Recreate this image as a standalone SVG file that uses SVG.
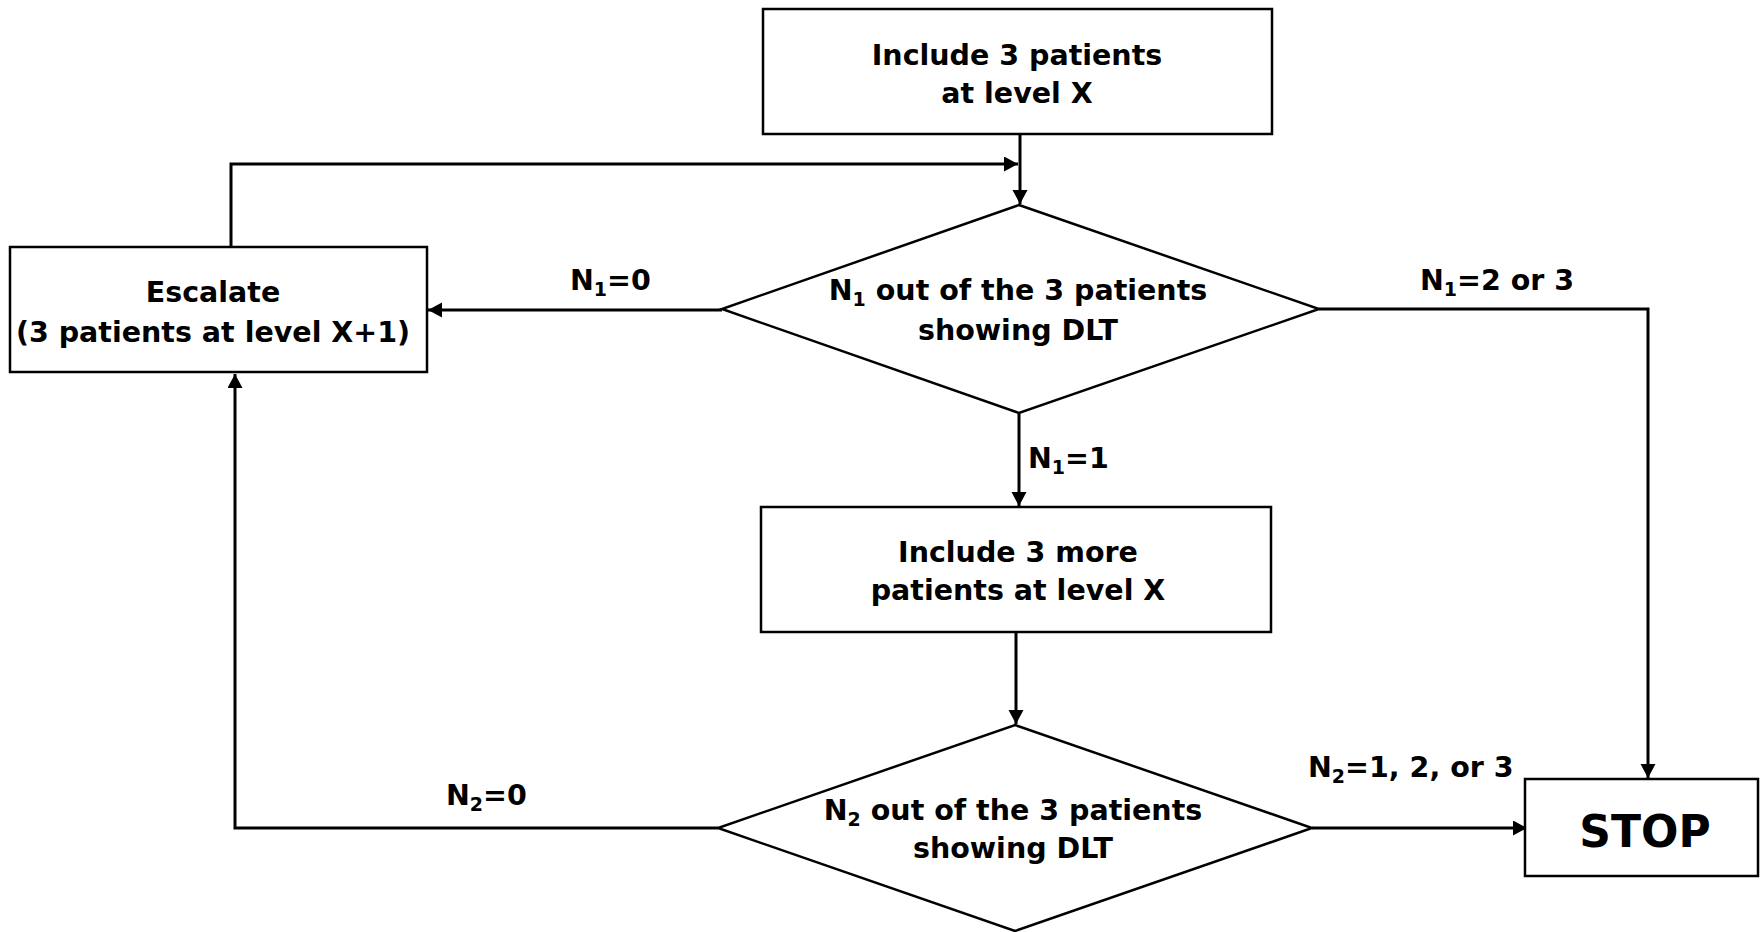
<svg xmlns="http://www.w3.org/2000/svg" width="1760" height="932" viewBox="0 0 1760 932">
<style>
.box{fill:#fff;stroke:#000;stroke-width:2.5}
.conn{fill:none;stroke:#000;stroke-width:3}
text{font-family:"DejaVu Sans",Verdana,sans-serif;font-weight:bold;font-size:28.5px;fill:#000}
.c{text-anchor:middle}
.sub{font-size:19px}
</style>
<defs>
<marker id="ah" markerUnits="userSpaceOnUse" markerWidth="15" markerHeight="16" refX="14" refY="7.5" orient="auto">
<path d="M0,0 L14,7.5 L0,15 z" fill="#000"/>
</marker>
</defs>
<rect width="1760" height="932" fill="#fff"/>
<g id="connectors">
<path class="conn" d="M1020,134 V204" marker-end="url(#ah)"/>
<path class="conn" d="M231,247 V164 H1018" marker-end="url(#ah)"/>
<path class="conn" d="M722,310 H428" marker-end="url(#ah)"/>
<path class="conn" d="M1319,309 H1648 V778" marker-end="url(#ah)"/>
<path class="conn" d="M1019,413 V506" marker-end="url(#ah)"/>
<path class="conn" d="M1016,632 V724" marker-end="url(#ah)"/>
<path class="conn" d="M1312,828 H1527" marker-end="url(#ah)"/>
<path class="conn" d="M718,828 H235 V374" marker-end="url(#ah)"/>
<text x="570" y="290">N<tspan class="sub" dy="6">1</tspan><tspan dy="-6">=0</tspan></text>
<text x="1420" y="290">N<tspan class="sub" dy="6">1</tspan><tspan dy="-6">=2 or 3</tspan></text>
<text x="1028" y="468">N<tspan class="sub" dy="6">1</tspan><tspan dy="-6">=1</tspan></text>
<text x="446" y="805">N<tspan class="sub" dy="6">2</tspan><tspan dy="-6">=0</tspan></text>
<text x="1308" y="777">N<tspan class="sub" dy="6">2</tspan><tspan dy="-6">=1, 2, or 3</tspan></text>
</g>
<g id="start">
<rect class="box" x="763" y="9" width="509" height="125"/>
<text class="c" x="1017" y="65">Include 3 patients</text>
<text class="c" x="1017" y="103">at level X</text>
</g>
<g id="decision1">
<polygon class="box" points="1019,205 1319,309 1019,413 722,309"/>
<text class="c" x="1018" y="300">N<tspan class="sub" dy="6">1</tspan><tspan dy="-6"> out of the 3 patients</tspan></text>
<text class="c" x="1018" y="340">showing DLT</text>
</g>
<g id="escalate">
<rect class="box" x="10" y="247" width="417" height="125"/>
<text class="c" x="213" y="302">Escalate</text>
<text class="c" x="213" y="342">(3 patients at level X+1)</text>
</g>
<g id="more">
<rect class="box" x="761" y="507" width="510" height="125"/>
<text class="c" x="1018" y="562">Include 3 more</text>
<text class="c" x="1018" y="600">patients at level X</text>
</g>
<g id="decision2">
<polygon class="box" points="1015,725 1312,828 1015,931 718,828"/>
<text class="c" x="1013" y="820">N<tspan class="sub" dy="6">2</tspan><tspan dy="-6"> out of the 3 patients</tspan></text>
<text class="c" x="1013" y="858">showing DLT</text>
</g>
<g id="stop">
<rect class="box" x="1525" y="779" width="233" height="97"/>
<text class="c" x="1645" y="847" style="font-size:44px">STOP</text>
</g>
</svg>
